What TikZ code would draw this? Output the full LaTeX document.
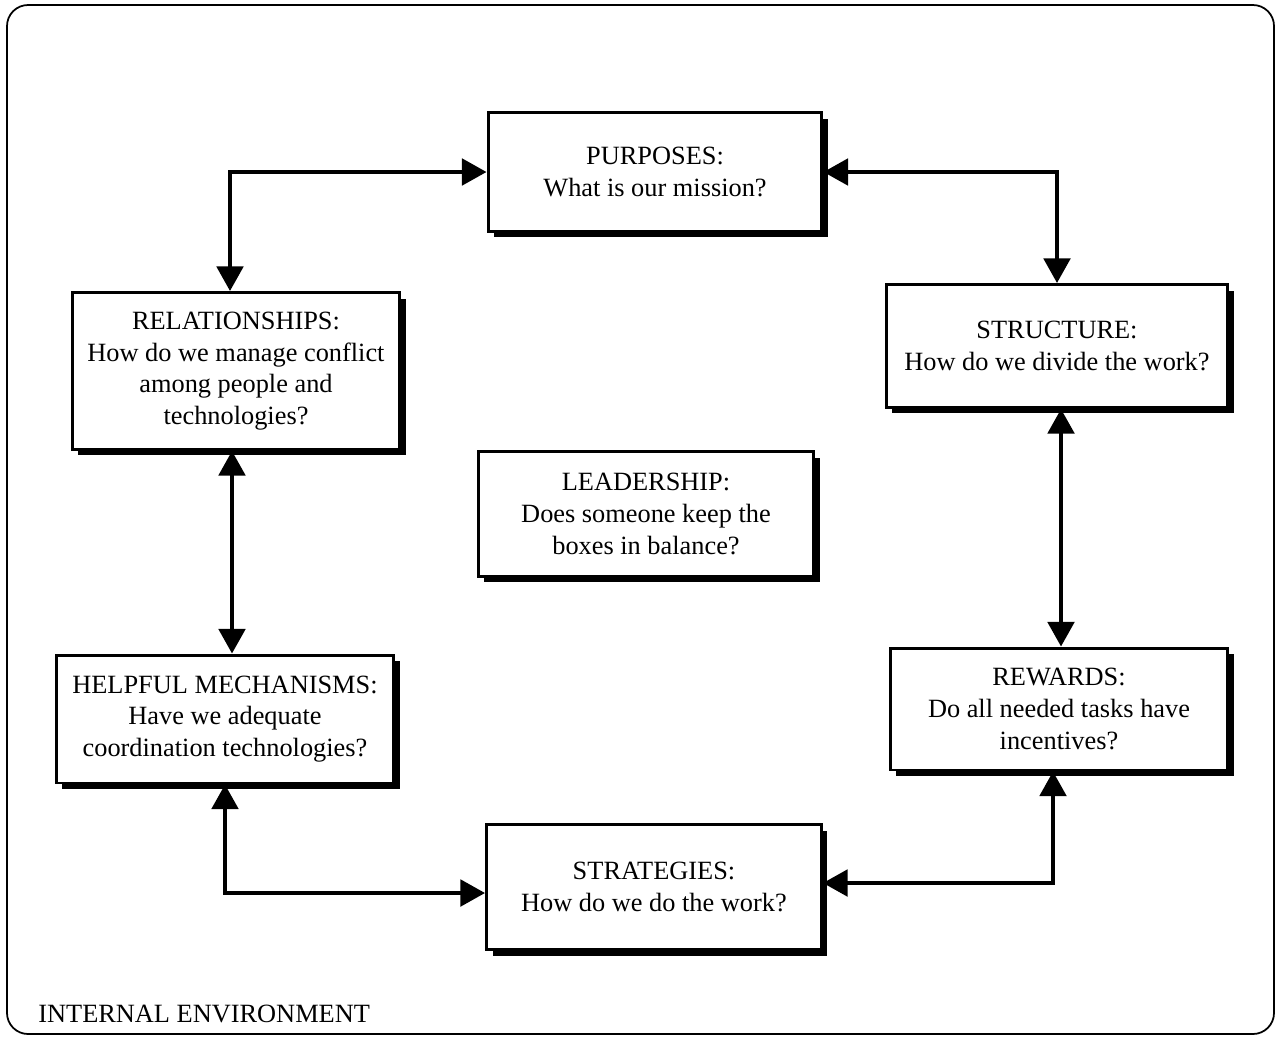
\documentclass[tikz,border=0pt]{standalone}
\usepackage{fontspec}
\setmainfont{Liberation Serif}
\usetikzlibrary{
  arrows.meta,
  calc,
  shadows
}
\tikzset{
  % For the question boxes.
  panel/.style={
    draw,
    line width=1.7pt,
    fill=white,
    align=center,
    inner sep=0pt,
    font=\fontsize{15}{18}\selectfont,
    drop shadow={shadow xshift=0.12cm,
                 shadow yshift=-0.12cm,
                 opacity=1,
                 fill=black}},
%
  % For the thick connectors with a tip at each end.
  link/.style={
    line width=2.3pt,
    {Triangle[width=15pt,length=14pt]}-{Triangle[width=15pt,length=14pt]}},
%
  % For the surrounding frame.
  frame/.style={
    line width=1pt,
    rounded corners=12pt},
%
  % For the caption.
  caption/.style={
    font=\fontsize{15}{18}\selectfont,
    inner sep=0pt,
    anchor=base west}
}

\begin{document}
\begin{tikzpicture}[x=0.02cm, y=-0.02cm]
  \useasboundingbox (0,0) rectangle (1277,1038);
  \draw[frame] (7,5) rectangle (1274,1034);

  \node [panel, minimum width=6.68cm, minimum height=2.38cm]
        (purposes) at (655,172) {PURPOSES:\\What is our mission?};
  \node [panel, minimum width=6.56cm, minimum height=3.14cm]
        (relationships) at (236,371) {RELATIONSHIPS:\\How do we manage conflict\\among people and\\technologies?};
  \node [panel, minimum width=6.84cm, minimum height=2.46cm]
        (structure) at (1057,346) {STRUCTURE:\\How do we divide the work?};
  \node [panel, minimum width=6.72cm, minimum height=2.5cm]
        (leadership) at (646,514) {LEADERSHIP:\\Does someone keep the\\boxes in balance?};
  \node [panel, minimum width=6.76cm, minimum height=2.56cm]
        (helpful) at (225,719) {HELPFUL MECHANISMS:\\Have we adequate\\coordination technologies?};
  \node [panel, minimum width=6.76cm, minimum height=2.44cm]
        (rewards) at (1059,709) {REWARDS:\\Do all needed tasks have\\incentives?};
  \node [panel, minimum width=6.7cm, minimum height=2.5cm]
        (strategies) at (654,887) {STRATEGIES:\\How do we do the work?};

  \draw[link] (purposes.west) -| ($(relationships.north) + (-6,0)$);
  \draw[link] (purposes.east) -| (structure.north);
  \draw[link] ($(relationships.south) + (-4,0)$)
                -- ($(relationships.south |- helpful.north) + (-4,0)$);
  \draw[link] ($(structure.south) + (4,0)$)
                -- ($(structure.south |- rewards.north) + (4,0)$);
  \draw[link] (helpful.south) |- ($(strategies.west) + (0,6)$);
  \draw[link] ($(rewards.south) + (-6,0)$) |- ($(strategies.east) + (0,-4)$);

  \node[caption] (environment) at (38,1022) {INTERNAL ENVIRONMENT};
\end{tikzpicture}
\end{document}
